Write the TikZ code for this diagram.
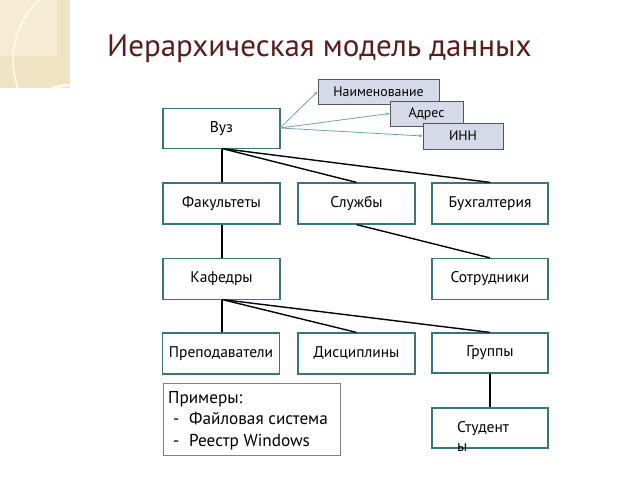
\documentclass[tikz,border=0pt]{standalone}
\usepackage{fontspec}
\setmainfont{PT Sans}
\usetikzlibrary{arrows.meta}
\definecolor{boxc}{HTML}{3A747C}
\definecolor{arrc}{HTML}{6AA6A8}
\definecolor{attrfill}{HTML}{D6D9E7}
\definecolor{attrdraw}{HTML}{555555}
\definecolor{titlec}{HTML}{5A1C1C}
\definecolor{beige}{HTML}{EFE3C2}
\definecolor{beigel}{HTML}{F5ECD3}
\tikzset{
  box/.style={draw=boxc, line width=1.2pt, fill=white, minimum width=117pt, minimum height=41pt, inner sep=0pt, font=\fontsize{15.5}{18}\selectfont},
  attr/.style={draw=attrdraw, line width=0.8pt, fill=attrfill, inner sep=0pt, font=\fontsize{13.8}{16}\selectfont},
  ex/.style={anchor=base west, inner sep=0pt, font=\fontsize{17.2}{20}\selectfont},
  link/.style={line width=1.4pt, black},
  arr/.style={draw=arrc, line width=0.8pt, -{Stealth[length=4pt,width=3pt]}}
}
\begin{document}
\begin{tikzpicture}[x=1pt,y=-1pt]
\useasboundingbox (0,0) rectangle (640,480);
% decoration
\fill[beige] (0,0) rectangle (70,88);
\fill[beigel] (0,0) rectangle (57,56);
\begin{scope}
\clip (0,0) rectangle (70,88);
\draw[white!85!beige, line width=1.5pt] (95,60) circle (82);
\draw[white!80!beige, line width=3pt] (70,130) circle (45);
\end{scope}
% title
\node[anchor=base west, inner sep=0pt, text=titlec, font=\fontsize{31}{36}\selectfont] (title) at (107,56) {Иерархическая модель данных};
% main boxes
\node[box, minimum height=40pt] (vuz) at (221.5,128.5) {Вуз};
\node[box] (fak) at (221.5,203.5) {Факультеты};
\node[box] (slu) at (356.5,203.5) {\raisebox{3pt}{Службы}};
\node[box, minimum width=116pt] (buh) at (490,203.5) {Бухгалтерия};
\node[box] (kaf) at (221.5,279) {Кафедры};
\node[box, minimum width=116pt] (sot) at (490,279) {Сотрудники};
\node[box] (pre) at (221,353.5) {Преподаватели};
\node[box] (dis) at (356.5,353.5) {Дисциплины};
\node[box, minimum width=116pt, minimum height=40pt] (gru) at (490,353) {\raisebox{3pt}{Группы}};
\node[box, minimum width=116pt, minimum height=40pt] (stu) at (490,428) {};
\node[anchor=base west, inner sep=0pt, font=\fontsize{15.5}{18}\selectfont] (stut) at (457,432) {Студент};
\node[anchor=base west, inner sep=0pt, font=\fontsize{15.5}{18}\selectfont] (stuy) at (457,451) {ы};
% examples
\node[draw=gray, line width=0.8pt, minimum width=177pt, minimum height=72pt, inner sep=0pt] (prim) at (251.5,419) {};
\node[ex] (ex1) at (168,403) {Примеры:};
\node[ex] (ex2d) at (173,424.5) {-};
\node[ex] (ex2) at (189,424.5) {Файловая система};
\node[ex] (ex3d) at (173,446) {-};
\node[ex] (ex3) at (189,446) {Реестр Windows};
% attribute boxes
\node[attr, minimum width=121pt, minimum height=25pt] (naim) at (378.5,91.5) {Наименование};
\node[attr, minimum width=73pt, minimum height=25pt] (adr) at (426.5,113.5) {Адрес};
\node[attr, minimum width=80pt, minimum height=26pt] (inn) at (463,136) {ИНН};
% arrows
\coordinate (vuzr) at (280,128);
\draw[arr] (vuzr) -- (naim.west);
\draw[arr] (vuzr) -- (adr.west);
\draw[arr] (vuzr) -- (inn.west);
% links
\coordinate (vuzb) at (222,148.5);
\draw[link] (vuzb) -- (fak.north -| vuzb);
\draw[link] (vuzb) -- (slu.north);
\draw[link] (vuzb) -- (buh.north);
\draw[link] (slu.south) -- (sot.north);
\draw[link] (fak.south -| vuzb) -- (kaf.north -| vuzb);
\coordinate (kafb) at (222,299.5);
\draw[link] (kafb) -- (pre.north -| kafb);
\draw[link] (kafb) -- (dis.north);
\draw[link] (kafb) -- (gru.north);
\draw[link] (gru.south) -- (stu.north);
\end{tikzpicture}
\end{document}
